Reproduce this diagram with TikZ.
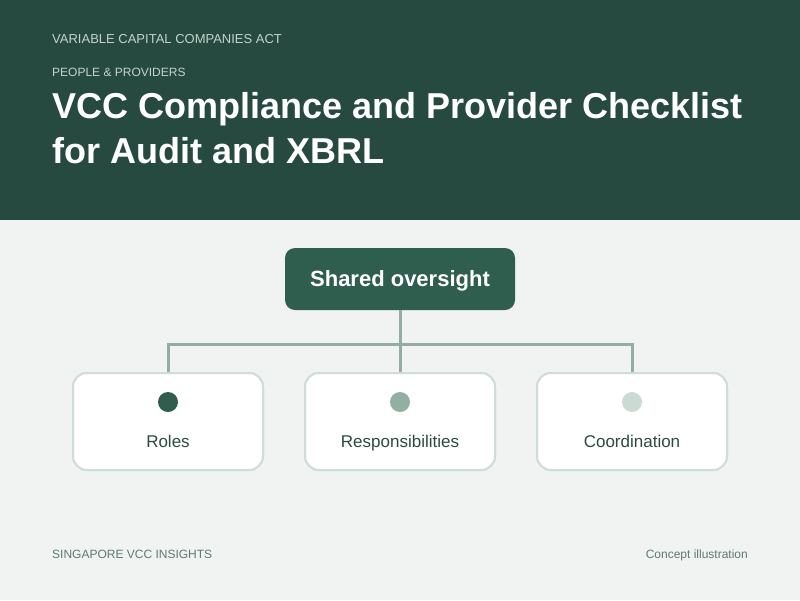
\documentclass[tikz,border=0pt]{standalone}
\usepackage{fontspec}
\setmainfont{Liberation Sans}
\definecolor{hdr}{HTML}{264A40}
\definecolor{bg}{HTML}{F0F3F2}
\definecolor{subtxt}{HTML}{C2D4CB}
\definecolor{topfill}{HTML}{2F5E4F}
\definecolor{conn}{HTML}{94ADA3}
\definecolor{boxline}{HTML}{CFDDD7}
\definecolor{dotA}{HTML}{2F5E4F}
\definecolor{dotB}{HTML}{93AFA2}
\definecolor{dotC}{HTML}{CADBD3}
\definecolor{lbl}{HTML}{2C4A40}
\definecolor{foot}{HTML}{5E7A70}
\tikzset{
  kicker/.style={anchor=base west, inner sep=0pt, text=subtxt},
  titletxt/.style={anchor=base west, inner sep=0pt, text=white, font=\fontsize{36}{40}\selectfont\bfseries},
  topbox/.style={draw=none, fill=topfill, rounded corners=10pt, minimum width=230pt, minimum height=62pt, text=white, font=\fontsize{22}{26}\selectfont\bfseries, inner sep=0pt, text height=15pt, text depth=0pt},
  cardbox/.style={draw=boxline, line width=2pt, fill=white, rounded corners=14pt, minimum width=190pt, minimum height=97pt, inner sep=0pt},
  cardlbl/.style={anchor=base, inner sep=0pt, text=lbl, font=\fontsize{17}{20}\selectfont},
  carddot/.style={circle, minimum size=20pt, inner sep=0pt, draw=none},
  connector/.style={draw=conn, line width=3pt},
  foottxt/.style={inner sep=0pt, text=foot, font=\fontsize{12}{14}\selectfont}
}
\begin{document}
\begin{tikzpicture}[x=1pt,y=-1pt]
\fill[bg] (0,0) rectangle (800,600);
\fill[hdr] (0,0) rectangle (800,220);
\useasboundingbox (0,0) rectangle (800,600);
\node[kicker, font=\fontsize{13}{15}\selectfont] (k1) at (52,43) {VARIABLE CAPITAL COMPANIES ACT};
\node[kicker, font=\fontsize{12}{14}\selectfont] (k2) at (52,76) {PEOPLE \& PROVIDERS};
\node[titletxt] (t1) at (52,118) {VCC Compliance and Provider Checklist};
\node[titletxt] (t2) at (52,163) {for Audit and XBRL};
\coordinate (j) at (400,344);
\node[cardbox] (b1) at (168,421.5) {};
\node[cardbox] (b2) at (400,421.5) {};
\node[cardbox] (b3) at (632,421.5) {};
\node[topbox] (top) at (400,279) {Shared oversight};
\draw[connector] (top.south) -- (j);
\draw[connector] (b1.north) |- (j) -| (b3.north);
\draw[connector] (j) -- (b2.north);
\node[cardbox] at (b1) {};
\node[cardbox] at (b2) {};
\node[cardbox] at (b3) {};
\node[carddot, fill=dotA] (d1) at (168,402) {};
\node[carddot, fill=dotB] (d2) at (400,402) {};
\node[carddot, fill=dotC] (d3) at (632,402) {};
\node[cardlbl] (l1) at (168,447) {Roles};
\node[cardlbl] (l2) at (400,447) {Responsibilities};
\node[cardlbl] (l3) at (632,447) {Coordination};
\node[foottxt, anchor=base west] (f1) at (52,558) {SINGAPORE VCC INSIGHTS};
\node[foottxt, anchor=base east] (f2) at (748,558) {Concept illustration};
\end{tikzpicture}
\end{document}
